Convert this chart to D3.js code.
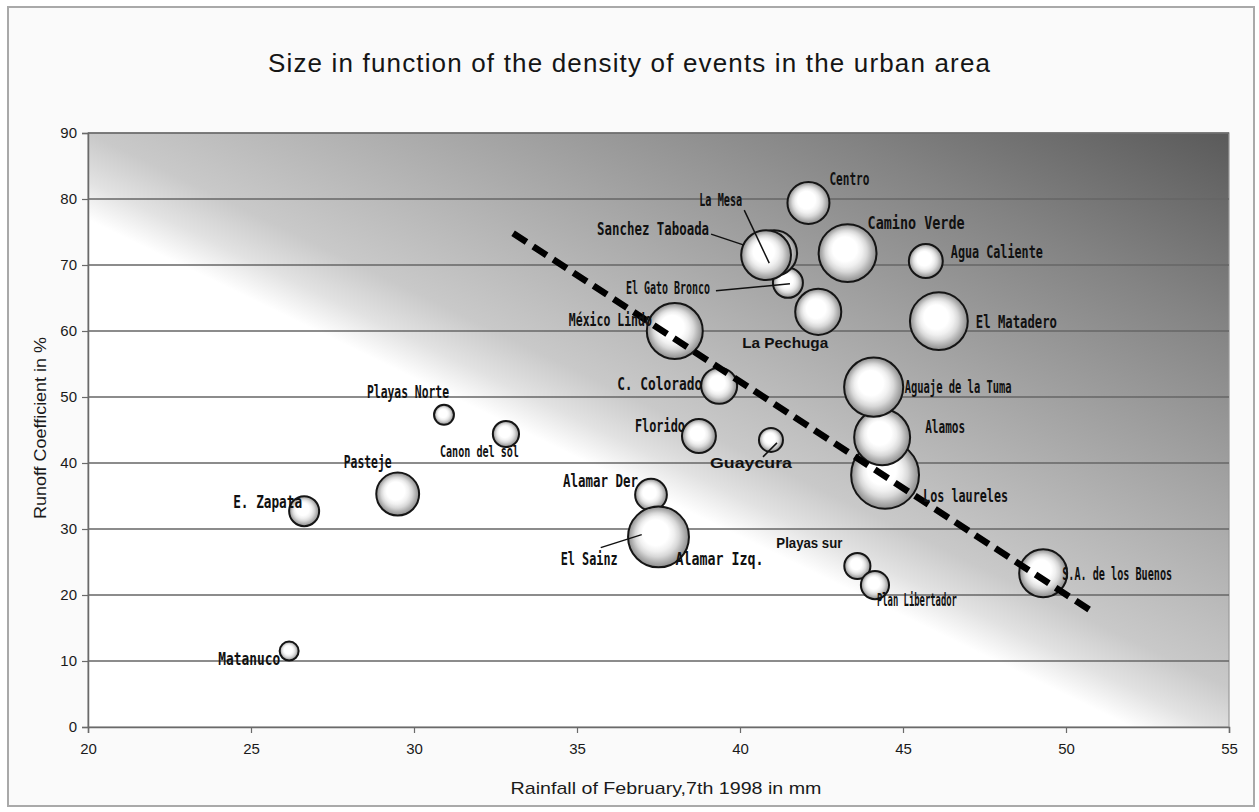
<!DOCTYPE html>
<html><head><meta charset="utf-8">
<script src="https://cdn.jsdelivr.net/npm/d3@7"></script>
<style>body{margin:0;background:#fff}</style></head>
<body><svg id="c" width="1259" height="812"></svg>
<script>
// ---- data (drawing order) ----
const names = ["Matanuco","E. Zapata","Pasteje","Playas Norte","Canon del sol","Alamar Der","El Sainz","Alamar Izq.","Florido","Guaycura","C. Colorado","México Lindo","El Gato Bronco","La Mesa","Sanchez Taboada","Centro","La Pechuga","Camino Verde","Agua Caliente","El Matadero","Los laureles","Alamos","Aguaje de la Tuma","Playas sur","Plan Libertador","S.A. de los Buenos"];
const rainfall = [26.17,26.63,29.5,30.92,32.82,37.27,37.2,37.5,38.74,40.95,39.36,38.0,41.47,41.05,40.8,42.1,42.4,43.3,45.7,46.1,44.45,44.36,44.1,43.6,44.14,49.3];
const runoff   = [11.5,32.7,35.3,47.3,44.4,35.2,29.0,28.8,44.1,43.5,51.7,60.0,67.3,71.8,71.5,79.4,62.9,71.8,70.6,61.5,38.2,43.9,51.5,24.4,21.5,23.3];
const density  = [10,25,51,11,19,28,40,103,32,16,36,87,25,58,69,49,59,93,32,93,128,87,97,19,22,64];
const xTicks = [20,25,30,35,40,45,50,55];
const yTicks = [0,10,20,30,40,50,60,70,80,90];
const trendX = [33.04,50.83];
const trendY = [74.8,17.4];
const title = "Size in function of the density of events in the urban area";
const xTitle = "Rainfall of February,7th 1998 in mm";
const yTitle = "Runoff Coefficient in %";

// ---- label layout (pixel offsets from bubble centre) ----
const mono = "mono", sans = "sans";
const labelLayout = {
 "Centro":{dx:21,dy:-18,a:"start",w:40,f:mono},
 "La Mesa":{dx:-32,dy:-47,a:"end",w:43,f:mono,ld:[-30,-43,-5,10]},
 "Sanchez Taboada":{dx:-57,dy:-20,a:"end",w:112,f:mono,ld:[-55,-21,-22,-10]},
 "El Gato Bronco":{dx:-78,dy:11,a:"end",w:84,f:mono,ld:[-72,8,2,1]},
 "México Lindo":{dx:-23,dy:-5,a:"end",w:83,f:mono},
 "La Pechuga":{dx:-76,dy:36,a:"start",w:86,f:sans},
 "C. Colorado":{dx:-17,dy:4,a:"end",w:85,f:mono},
 "Camino Verde":{dx:20,dy:-24,a:"start",w:97,f:mono},
 "Agua Caliente":{dx:25,dy:-3,a:"start",w:92,f:mono},
 "El Matadero":{dx:37,dy:7,a:"start",w:81,f:mono},
 "Aguaje de la Tuma":{dx:31,dy:6,a:"start",w:107,f:mono},
 "Alamos":{dx:43,dy:-4,a:"start",w:40,f:mono},
 "Los laureles":{dx:38,dy:27,a:"start",w:85,f:mono},
 "S.A. de los Buenos":{dx:19,dy:7,a:"start",w:110,f:mono},
 "Playas sur":{dx:-15,dy:-18,a:"end",w:66,f:sans,light:true},
 "Plan Libertador":{dx:2,dy:21,a:"start",w:80,f:mono},
 "Florido":{dx:-14,dy:-4,a:"end",w:50,f:mono},
 "Guaycura":{dx:-61,dy:28,a:"start",w:82,f:sans,ld:[-8,17,6,3]},
 "Alamar Der":{dx:-13,dy:-8,a:"end",w:75,f:mono},
 "El Sainz":{dx:-88,dy:29,a:"start",w:57,f:mono,ld:[-48,12,-7,-1]},
 "Alamar Izq.":{dx:17,dy:28,a:"start",w:88,f:mono},
 "Playas Norte":{dx:5,dy:-17,a:"end",w:82,f:mono},
 "Canon del sol":{dx:-66,dy:23,a:"start",w:79,f:mono,small:true},
 "Pasteje":{dx:-54,dy:-26,a:"start",w:48,f:mono},
 "E. Zapata":{dx:-71,dy:-3,a:"start",w:69,f:mono},
 "Matanuco":{dx:-71,dy:14,a:"start",w:62,f:mono}
};

const svg = d3.select("#c");
const L = 88, R = 1229, T = 133, B = 727;
const x = d3.scaleLinear().domain([20,55]).range([L,R]);
const y = d3.scaleLinear().domain([0,90]).range([B,T]);
const r = d3.scaleSqrt().domain([0,100]).range([0,30]);

const defs = svg.append("defs");
// plot background gradient
const ux = 0.437, uy = -0.899, glen = 577;
const bg = defs.append("linearGradient").attr("id","bg").attr("gradientUnits","userSpaceOnUse")
  .attr("x1", R - ux*glen).attr("y1", T - uy*glen).attr("x2", R).attr("y2", T);
[[0,"#ffffff"],[0.06,"#e2e2e2"],[0.135,"#c9c9c9"],[0.4,"#a8a8a8"],[0.7,"#838383"],[1,"#5a5a5a"]]
  .forEach(([o,c])=>bg.append("stop").attr("offset",o).attr("stop-color",c));
// bubble gradient
const bb = defs.append("radialGradient").attr("id","bub").attr("cx","0.5").attr("cy","0.5").attr("r","0.5").attr("fx","0.42").attr("fy","0.38");
[[0,"#ffffff"],[0.42,"#ffffff"],[0.58,"#f0f0f0"],[0.72,"#d8d8d8"],[0.85,"#b4b4b4"],[1,"#8c8c8c"]]
  .forEach(([o,c])=>bb.append("stop").attr("offset",o).attr("stop-color",c));

// chart area
svg.append("rect").attr("x",8).attr("y",7).attr("width",1246).attr("height",799)
  .attr("fill","#fafafa").attr("stroke","#a9a9a9").attr("stroke-width",2);

// title
svg.append("text").attr("x",629).attr("y",72).attr("text-anchor","middle")
  .attr("font-family","Liberation Sans, Arial, sans-serif").attr("font-size",26)
  .attr("textLength",722).attr("lengthAdjust","spacing")
  .attr("fill","#151515").text(title);

// plot area
svg.append("rect").attr("x",L).attr("y",T).attr("width",R-L).attr("height",B-T).attr("fill","url(#bg)")
  .attr("stroke","#9a9a9a").attr("stroke-width",1.2);

// grid lines
svg.append("g").selectAll("line").data(yTicks.filter(d=>d>0)).join("line")
  .attr("x1",L).attr("x2",R).attr("y1",d=>y(d)).attr("y2",d=>y(d))
  .attr("stroke","#666").attr("stroke-width",1.5);

// axes
const xAxis = svg.append("g").attr("transform",`translate(0,${B})`)
  .call(d3.axisBottom(x).tickValues(xTicks).tickSize(6).tickPadding(10));
const yAxis = svg.append("g").attr("transform",`translate(${L},0)`)
  .call(d3.axisLeft(y).tickValues(yTicks).tickSize(6).tickPadding(5));
[xAxis,yAxis].forEach(g=>{
  g.select(".domain").attr("stroke","#6a6a6a").attr("stroke-width",1.5);
  g.selectAll(".tick line").attr("stroke","#6a6a6a").attr("stroke-width",1.2);
  g.selectAll(".tick text").attr("font-family","Liberation Sans, Arial, sans-serif")
    .attr("font-size",15).attr("fill","#1a1a1a");
});

// axis titles
svg.append("text").attr("x",666).attr("y",794).attr("text-anchor","middle")
  .attr("font-family","Liberation Sans, Arial, sans-serif").attr("font-size",17)
  .attr("textLength",311).attr("lengthAdjust","spacingAndGlyphs").attr("fill","#1a1a1a").text(xTitle);
svg.append("text").attr("transform","translate(46,428) rotate(-90)").attr("text-anchor","middle")
  .attr("font-family","Liberation Sans, Arial, sans-serif").attr("font-size",17)
  .attr("textLength",182).attr("lengthAdjust","spacingAndGlyphs").attr("fill","#1a1a1a").text(yTitle);

// bubbles
const data = names.map((n,i)=>({n, x:rainfall[i], y:runoff[i], s:density[i]}));
svg.append("g").selectAll("circle").data(data).join("circle")
  .attr("cx",d=>x(d.x)).attr("cy",d=>y(d.y)).attr("r",d=>r(d.s))
  .attr("fill","url(#bub)").attr("stroke","#151515").attr("stroke-width",2);

// trend line
svg.append("line").attr("x1",x(trendX[0])).attr("y1",y(trendY[0])).attr("x2",x(trendX[1])).attr("y2",y(trendY[1]))
  .attr("stroke","#000").attr("stroke-width",6.5).attr("stroke-dasharray","16,8");

// leader lines and labels
const lg = svg.append("g");
data.forEach(d=>{
  const o = labelLayout[d.n]; if(!o) return;
  const cx = x(d.x), cy = y(d.y);
  if(o.ld){
    lg.append("line").attr("x1",cx+o.ld[0]).attr("y1",cy+o.ld[1]).attr("x2",cx+o.ld[2]).attr("y2",cy+o.ld[3])
      .attr("stroke","#111").attr("stroke-width",1.5);
  }
  const t = lg.append("text").attr("x",cx+o.dx).attr("y",cy+o.dy).attr("text-anchor",o.a)
    .attr("fill","#111").attr("textLength",o.w).attr("lengthAdjust","spacingAndGlyphs").text(d.n);
  if(o.f===mono){
    t.attr("font-family","DejaVu Sans Mono, monospace").attr("font-weight","bold").attr("font-size",o.small?15:18);
  } else {
    t.attr("font-family","Liberation Sans, Arial, sans-serif").attr("font-weight","bold").attr("font-size",o.light?14:15);
  }
});
</script></body></html>
